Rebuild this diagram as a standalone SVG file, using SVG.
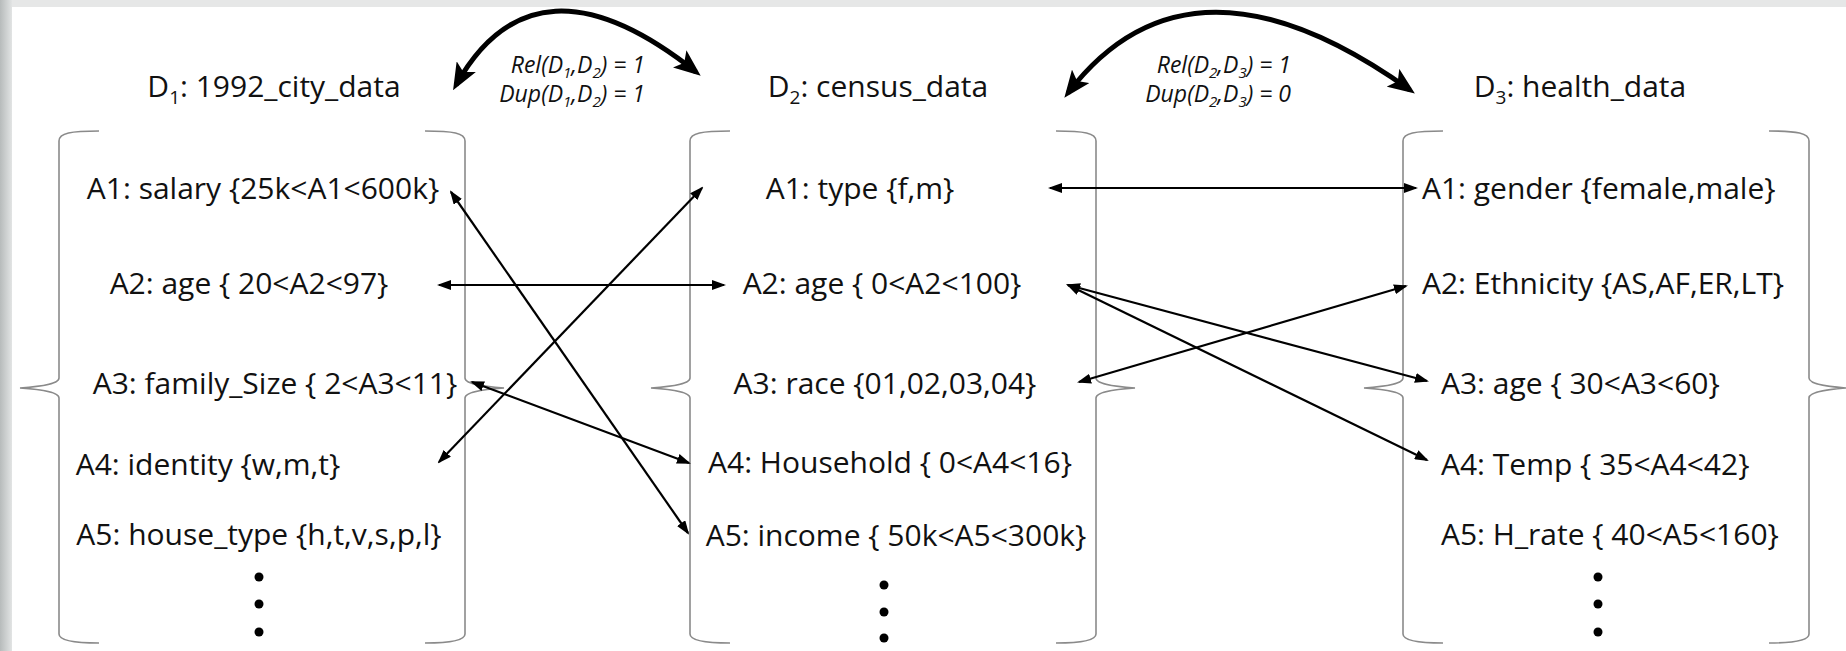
<svg xmlns="http://www.w3.org/2000/svg" width="1846" height="651" viewBox="0 0 1846 651">
  <defs>
    <linearGradient id="sideBand" x1="0" y1="0" x2="1" y2="0">
      <stop offset="0" stop-color="#b7bbbb"/>
      <stop offset="1" stop-color="#e2e4e4"/>
    </linearGradient>
    <marker id="head" markerUnits="userSpaceOnUse" markerWidth="14" markerHeight="10" viewBox="0 0 14 10" refX="12" refY="5" orient="auto-start-reverse">
      <path d="M0,0 L14,5 L0,10 z" fill="#000"/>
    </marker>
    <marker id="bigHead" markerUnits="userSpaceOnUse" markerWidth="27" markerHeight="22" viewBox="0 0 27 22" refX="21" refY="11" orient="auto-start-reverse">
      <path d="M0,0 L27,11 L0,22 L6,11 z" fill="#000"/>
    </marker>
  </defs>
  <style>
    .brace { fill: none; stroke: #8a8a8a; stroke-width: 1.6; }
    .title, .attr { font-family: "Open Sans", "Liberation Sans", sans-serif; font-size: 30px; fill: #111; }
    .lbl { font-family: "Open Sans", "Liberation Sans", sans-serif; font-size: 23px; font-style: italic; fill: #111; }
    .conn { fill: none; stroke: #000; stroke-width: 2.2; marker-start: url(#head); marker-end: url(#head); }
    .arc { fill: none; stroke: #000; stroke-width: 5; marker-start: url(#bigHead); marker-end: url(#bigHead); }
    .dot { fill: #000; }
  </style>

  <!-- page background with grey frame bands -->
  <rect x="0" y="0" width="1846" height="651" fill="#ffffff"/>
  <rect x="0" y="0" width="1846" height="7" fill="#e6e7e7"/>
  <rect x="0" y="0" width="12" height="651" fill="url(#sideBand)"/>

  <!-- dataset D1 -->
  <g id="d1">
    <text class="title" x="274" y="97" text-anchor="middle">D<tspan font-size="19" dy="7">1</tspan><tspan dy="-7">: 1992_city_data</tspan></text>
    <path class="brace" d="M99,131 C71,131 59,133 59,141 L59,378 C59,385 34,387 20,388 C34,389 59,391 59,398 L59,634 C59,640 71,643 99,643"/>
    <path class="brace" d="M425,131 C453,131 465,133 465,141 L465,378 C465,385 490,387 504,388 C490,389 465,391 465,398 L465,634 C465,640 453,643 425,643"/>
    <text class="attr" x="263" y="199" text-anchor="middle">A1: salary {25k&lt;A1&lt;600k}</text>
    <text class="attr" x="249" y="294" text-anchor="middle">A2: age { 20&lt;A2&lt;97}</text>
    <text class="attr" x="275" y="394" text-anchor="middle">A3: family_Size { 2&lt;A3&lt;11}</text>
    <text class="attr" x="208" y="475" text-anchor="middle">A4: identity {w,m,t}</text>
    <text class="attr" x="259" y="545" text-anchor="middle">A5: house_type {h,t,v,s,p,l}</text>
    <circle class="dot" cx="259" cy="577" r="4.5"/>
    <circle class="dot" cx="259" cy="604" r="4.5"/>
    <circle class="dot" cx="259" cy="632" r="4.5"/>
  </g>

  <!-- dataset D2 -->
  <g id="d2">
    <text class="title" x="878" y="97" text-anchor="middle">D<tspan font-size="19" dy="7">2</tspan><tspan dy="-7">: census_data</tspan></text>
    <path class="brace" d="M730,131 C702,131 690,133 690,141 L690,378 C690,385 665,387 651,388 C665,389 690,391 690,398 L690,634 C690,640 702,643 730,643"/>
    <path class="brace" d="M1056,131 C1084,131 1096,133 1096,141 L1096,378 C1096,385 1121,387 1135,388 C1121,389 1096,391 1096,398 L1096,634 C1096,640 1084,643 1056,643"/>
    <text class="attr" x="860" y="199" text-anchor="middle">A1: type {f,m}</text>
    <text class="attr" x="882" y="294" text-anchor="middle">A2: age { 0&lt;A2&lt;100}</text>
    <text class="attr" x="885" y="394" text-anchor="middle">A3: race {01,02,03,04}</text>
    <text class="attr" x="890" y="473" text-anchor="middle">A4: Household { 0&lt;A4&lt;16}</text>
    <text class="attr" x="896" y="546" text-anchor="middle">A5: income { 50k&lt;A5&lt;300k}</text>
    <circle class="dot" cx="884" cy="585" r="4.5"/>
    <circle class="dot" cx="884" cy="612" r="4.5"/>
    <circle class="dot" cx="884" cy="638" r="4.5"/>
  </g>

  <!-- dataset D3 -->
  <g id="d3">
    <text class="title" x="1580" y="97" text-anchor="middle">D<tspan font-size="19" dy="7">3</tspan><tspan dy="-7">: health_data</tspan></text>
    <path class="brace" d="M1443,131 C1415,131 1403,133 1403,141 L1403,378 C1403,385 1378,387 1364,388 C1378,389 1403,391 1403,398 L1403,634 C1403,640 1415,643 1443,643"/>
    <path class="brace" d="M1769,131 C1797,131 1809,133 1809,141 L1809,378 C1809,385 1834,387 1846,388 C1834,389 1809,391 1809,398 L1809,634 C1809,640 1797,643 1769,643"/>
    <text class="attr" x="1422" y="199">A1: gender {female,male}</text>
    <text class="attr" x="1422" y="294">A2: Ethnicity {AS,AF,ER,LT}</text>
    <text class="attr" x="1441" y="394">A3: age { 30&lt;A3&lt;60}</text>
    <text class="attr" x="1441" y="475">A4: Temp { 35&lt;A4&lt;42}</text>
    <text class="attr" x="1441" y="545">A5: H_rate { 40&lt;A5&lt;160}</text>
    <circle class="dot" cx="1598" cy="577" r="4.5"/>
    <circle class="dot" cx="1598" cy="604" r="4.5"/>
    <circle class="dot" cx="1598" cy="632" r="4.5"/>
  </g>

  <!-- dataset-level relations -->
  <g id="relations">
    <path class="arc" d="M456,85 Q535,-56 696,72"/>
    <text class="lbl" x="645" y="73" text-anchor="end">Rel(D<tspan font-size="15" dy="5">1</tspan><tspan dy="-5">,D</tspan><tspan font-size="15" dy="5">2</tspan><tspan dy="-5">) = 1</tspan></text>
    <text class="lbl" x="645" y="102" text-anchor="end">Dup(D<tspan font-size="15" dy="5">1</tspan><tspan dy="-5">,D</tspan><tspan font-size="15" dy="5">2</tspan><tspan dy="-5">) = 1</tspan></text>
    <path class="arc" d="M1068,93 Q1190,-67 1410,90"/>
    <text class="lbl" x="1291" y="73" text-anchor="end">Rel(D<tspan font-size="15" dy="5">2</tspan><tspan dy="-5">,D</tspan><tspan font-size="15" dy="5">3</tspan><tspan dy="-5">) = 1</tspan></text>
    <text class="lbl" x="1291" y="102" text-anchor="end">Dup(D<tspan font-size="15" dy="5">2</tspan><tspan dy="-5">,D</tspan><tspan font-size="15" dy="5">3</tspan><tspan dy="-5">) = 0</tspan></text>
  </g>

  <!-- attribute correspondences -->
  <g id="connectors">
    <line class="conn" x1="451" y1="192" x2="688" y2="533"/>
    <line class="conn" x1="439" y1="462" x2="702" y2="188"/>
    <line class="conn" x1="439" y1="285" x2="724" y2="285"/>
    <line class="conn" x1="472" y1="382" x2="689" y2="463"/>
    <line class="conn" x1="1050" y1="188" x2="1416" y2="188"/>
    <line class="conn" x1="1068" y1="285" x2="1427" y2="381"/>
    <line class="conn" x1="1068" y1="285" x2="1427" y2="460"/>
    <line class="conn" x1="1079" y1="382" x2="1406" y2="286"/>
  </g>
</svg>
